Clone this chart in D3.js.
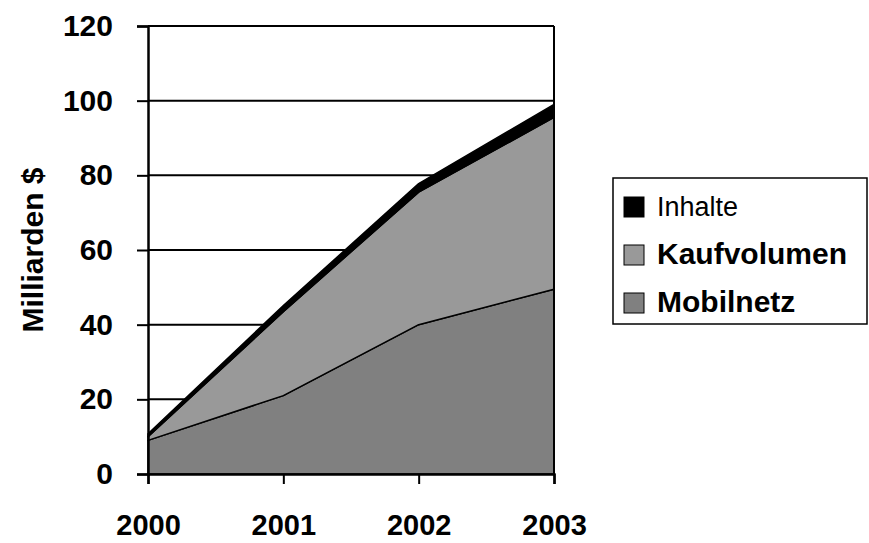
<!DOCTYPE html>
<html>
<head>
<meta charset="utf-8">
<script src="https://cdn.jsdelivr.net/npm/d3@7"></script>
<style>
  body { margin: 0; background: #fff; }
  text { font-family: "Liberation Sans", Arial, sans-serif; font-weight: bold; fill: #000; }
</style>
</head>
<body>
<svg width="869" height="543" id="mainsvg"></svg>
<script>
    // data
    let years = [2000, 2001, 2002, 2003];
    let mobilnetz = [9, 21, 40, 49.5];
    let kaufvolumen = [1, 22.5, 35.5, 46];
    let inhalte = [0.8, 1.6, 2.3, 3.5];
    let seriesNames = ['Mobilnetz', 'Kaufvolumen', 'Inhalte'];
    let seriesColors = ['#808080', '#999999', '#000000'];
    let yTicks = [0, 20, 40, 60, 80, 100, 120];

    let svg = d3.select('#mainsvg');
    let plotLeft = 148, plotRight = 554, plotTop = 26, plotBottom = 474;

    let x = d3.scalePoint().domain(years).range([plotLeft, plotRight]);
    let y = d3.scaleLinear().domain([0, 120]).range([plotBottom, plotTop]);

    let rows = years.map((yr, i) => ({year: yr, Mobilnetz: mobilnetz[i], Kaufvolumen: kaufvolumen[i], Inhalte: inhalte[i]}));
    let stacked = d3.stack().keys(seriesNames)(rows);

    // gridlines
    svg.append('g').selectAll('line').data(yTicks.slice(1)).join('line')
        .attr('x1', plotLeft).attr('x2', plotRight)
        .attr('y1', d => y(d)).attr('y2', d => y(d))
        .attr('stroke', '#000').attr('stroke-width', 2);

    let area = d3.area()
        .x(d => x(d.data.year))
        .y0(d => y(d[0]))
        .y1(d => y(d[1]));

    svg.append('g').selectAll('path').data(stacked).join('path')
        .attr('d', area)
        .attr('fill', (d, i) => seriesColors[i])
        .attr('stroke', '#000')
        .attr('stroke-width', 1.5)
        .attr('stroke-linejoin', 'round');

    // right border
    svg.append('line')
        .attr('x1', plotRight).attr('x2', plotRight).attr('y1', plotTop).attr('y2', plotBottom)
        .attr('stroke', '#000').attr('stroke-width', 2);

    // y axis
    let yAxis = svg.append('g')
        .attr('transform', `translate(${plotLeft},0)`)
        .call(d3.axisLeft(y).tickValues(yTicks).tickSize(11).tickPadding(24));
    yAxis.select('.domain').attr('stroke-width', 2.5);
    yAxis.selectAll('.tick line').attr('stroke-width', 2);
    yAxis.selectAll('text').style('font-size', '30px').attr('fill', '#000');

    // x axis
    let xAxis = svg.append('g')
        .attr('transform', `translate(0,${plotBottom})`)
        .call(d3.axisBottom(x).tickSize(10).tickPadding(30).tickFormat(d3.format('d')));
    xAxis.select('.domain').attr('stroke-width', 2.5);
    xAxis.selectAll('.tick line').attr('stroke-width', 2);
    xAxis.selectAll('text').style('font-size', '29px').attr('fill', '#000');

    // y title
    svg.append('text')
        .attr('transform', 'translate(43,250) rotate(-90)')
        .attr('text-anchor', 'middle')
        .style('font-size', '30px')
        .text('Milliarden $');

    // legend
    let legend = svg.append('g');
    legend.append('rect')
        .attr('x', 613).attr('y', 178).attr('width', 254).attr('height', 146)
        .attr('fill', '#fff').attr('stroke', '#000').attr('stroke-width', 1.5);
    let legendOrder = [2, 1, 0];
    let items = legend.selectAll('g.item').data(legendOrder).join('g')
        .attr('class', 'item')
        .attr('transform', (d, i) => `translate(624,${197 + i * 48})`);
    items.append('rect')
        .attr('width', 20).attr('height', 20)
        .attr('fill', d => seriesColors[d])
        .attr('stroke', '#000').attr('stroke-width', 1);
    items.append('text')
        .attr('x', 33).attr('y', 19)
        .style('font-size', d => seriesNames[d] === 'Inhalte' ? '27px' : '30px')
        .style('font-weight', d => seriesNames[d] === 'Inhalte' ? 'normal' : 'bold')
        .text(d => seriesNames[d]);
</script>
</body>
</html>
